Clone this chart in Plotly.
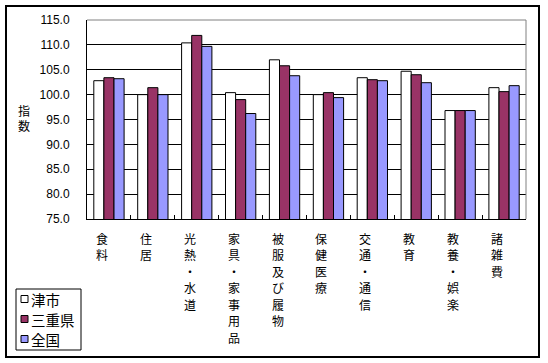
import plotly.graph_objects as go

categories = ["食料", "住居", "光熱・水道", "家具・家事用品", "被服及び履物",
              "保健医療", "交通・通信", "教育", "教養・娯楽", "諸雑費"]
series_names = ["津市", "三重県", "全国"]
tsu = [102.8, 100.0, 110.4, 100.4, 107.0, 100.0, 103.4, 104.7, 96.8, 101.4]
mie = [103.4, 101.4, 111.9, 99.0, 105.8, 100.4, 103.0, 104.0, 96.8, 100.6]
zenkoku = [103.2, 100.0, 109.7, 96.2, 103.8, 99.4, 102.8, 102.4, 96.8, 101.8]
y_ticks = [75, 80, 85, 90, 95, 100, 105, 110, 115]
y_title = "指数"
colors = ["#FFFFFF", "#993366", "#9999FF"]

# plot area in pixels
L, R, T, B = 87, 526, 20, 219
W, H = R - L, B - T
def px(x):
    return (x - L) / W
def py(y):
    return (B - y) / H

fig = go.Figure()
for name, vals, c in zip(series_names, [tsu, mie, zenkoku], colors):
    fig.add_trace(go.Bar(x=categories, y=vals, name=name,
                         marker=dict(color=c, line=dict(color="black", width=1)),
                         showlegend=False))

jp = "Noto Sans CJK JP"
fig.update_layout(
    width=548, height=363,
    margin=dict(l=L, r=548 - R, t=T, b=363 - B, autoexpand=False),
    paper_bgcolor="white", plot_bgcolor="white",
    barmode="group", bargap=0.31, bargroupgap=0,
    xaxis=dict(type="category", showticklabels=False, ticks="inside",
               tickson="boundaries", ticklen=4, tickcolor="black",
               showline=True, linecolor="black", linewidth=1,
               showgrid=False, zeroline=False, automargin=False),
    yaxis=dict(range=[75, 115], tickvals=y_ticks,
               ticktext=[f"{v:.1f}" for v in y_ticks],
               showgrid=True, gridcolor="black", gridwidth=1,
               showline=True, linecolor="black", linewidth=1,
               ticks="", ticklabelstandoff=14, zeroline=False, automargin=False,
               tickfont=dict(family="Liberation Sans", size=12, color="black")),
    font=dict(family=jp, color="black"),
)

# gray top/right frame of plot area
fig.add_shape(type="line", xref="paper", yref="paper", x0=0, x1=1, y0=1, y1=1,
              line=dict(color="#808080", width=1))
fig.add_shape(type="line", xref="paper", yref="paper", x0=1, x1=1, y0=0, y1=1,
              line=dict(color="#808080", width=1))

# outer border
fig.add_shape(type="rect", xref="paper", yref="paper",
              x0=px(6), x1=px(539), y0=py(357), y1=py(6),
              line=dict(color="black", width=2), fillcolor="rgba(0,0,0,0)")

# y-axis title, stacked vertically
for i, ch in enumerate(y_title):
    fig.add_annotation(text=ch, xref="paper", yref="paper",
                       x=px(24), y=py(111.5 + i * 14.5), xanchor="center", yanchor="middle",
                       showarrow=False,
                       font=dict(family="Liberation Sans, Noto Sans CJK JP", size=12, color="black"))

# vertical category labels, one character per row
row_h = 16.5
for cat in categories:
    for i, ch in enumerate(cat):
        fig.add_annotation(text=ch, xref="x", yref="paper",
                           x=cat, y=0, xanchor="center", yanchor="middle",
                           xshift=-7, yshift=-(19 + i * row_h), showarrow=False,
                           font=dict(family=jp, size=12, color="black"))

# custom legend
lx0, lx1, ly0, ly1 = 16, 81, 289, 350
fig.add_shape(type="rect", xref="paper", yref="paper",
              x0=px(lx0), x1=px(lx1), y0=py(ly1), y1=py(ly0),
              line=dict(color="black", width=1), fillcolor="white")
item_y = [299, 319, 339]
for name, c, yc in zip(series_names, colors, item_y):
    fig.add_shape(type="rect", xref="paper", yref="paper",
                  x0=px(21), x1=px(28), y0=py(yc + 3.5), y1=py(yc - 3.5),
                  line=dict(color="black", width=1), fillcolor=c)
    fig.add_annotation(text=name, xref="paper", yref="paper",
                       x=px(29), y=py(yc), xanchor="left", yanchor="middle",
                       showarrow=False, font=dict(family=jp, size=14.5, color="black"))

fig.write_html("out.html", config={"displayModeBar": False},
               post_script="document.body.style.margin='0px';")
